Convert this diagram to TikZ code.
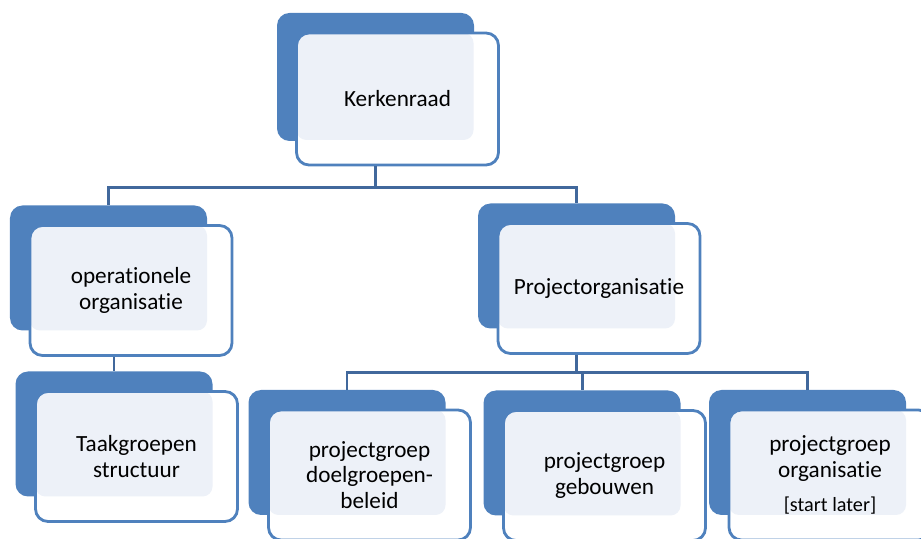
\documentclass[tikz,border=0pt]{standalone}
\usepackage{fontspec}
\setmainfont{Carlito}[Ligatures=NoCommon]
\usetikzlibrary{positioning,calc}
\definecolor{boxblue}{HTML}{4F81BD}
\definecolor{linkblue}{HTML}{41689C}
\definecolor{dotfill}{HTML}{EDF1F8}
\tikzset{
  back/.style={rectangle, rounded corners=0.25cm, fill=boxblue,
    minimum width=3.94cm, minimum height=2.5cm},
  front/.style={rectangle, rounded corners=0.25cm, draw=boxblue, line width=1.6pt,
    fill=white, minimum width=4.04cm, minimum height=2.6cm, align=center,
    font=\fontsize{13.2}{14.4}\selectfont,
    path picture={\fill[dotfill, rounded corners=0.2cm]
      (path picture bounding box.north west) rectangle
      ([shift={(-0.5cm,0.5cm)}]path picture bounding box.south east);}},
  link/.style={draw=linkblue, line width=1.7pt}
}
\newcommand{\later}[1]{{\fontsize{11.5}{13}\selectfont #1}}

\begin{document}
\begin{tikzpicture}
    \useasboundingbox (0,0) rectangle (18.42,-10.78);
    % top
    \node[back, minimum height=2.56cm] (kerkb) at (7.51,-1.54) {};
    \node[front, minimum height=2.64cm] (kerk) at ([shift={(0.44,-0.44)}]kerkb) {Kerkenraad};
    % second row
    \node[back] (operb) at (2.17,-5.36) {};
    \node[front] (oper) at ([shift={(0.45,-0.45)}]operb) {operationele\\organisatie};
    \node[back] (projb) at (11.53,-5.32) {};
    \node[front] (proj) at ([shift={(0.45,-0.45)}]projb) {Projectorganisatie};
    % third row
    \node[back] (taakb) at (2.28,-8.68) {};
    \node[front] (taak) at ([shift={(0.45,-0.45)}]taakb) {Taakgroepen\\structuur};
    \node[back] (doelb) at (6.94,-9.05) {};
    \node[front] (doel) at ([shift={(0.45,-0.45)}]doelb) {projectgroep\\doelgroepen-\\beleid};
    \node[back] (gebouwb) at (11.64,-9.06) {};
    \node[front] (gebouw) at ([shift={(0.45,-0.45)}]gebouwb) {projectgroep\\gebouwen};
    \node[back] (orgb) at (16.15,-9.05) {};
    \node[front] (org) at ([shift={(0.45,-0.45)}]orgb) {projectgroep\\organisatie\\[5pt]\later{[start later]}};
    % links
    \draw[link] (kerkb |- kerk.south) -- ++(0,-0.42) coordinate (top) -| (operb.north);
    \draw[link] (top) -| (projb.north);
    \draw[link] (taakb |- oper.south) -- (taakb.north);
    \draw[link] (projb |- proj.south) -- ++(0,-0.36) coordinate (mid) -| (doelb.north);
    \draw[link] (mid) -| (gebouwb.north);
    \draw[link] (mid) -| (orgb.north);
\end{tikzpicture}
\end{document}
